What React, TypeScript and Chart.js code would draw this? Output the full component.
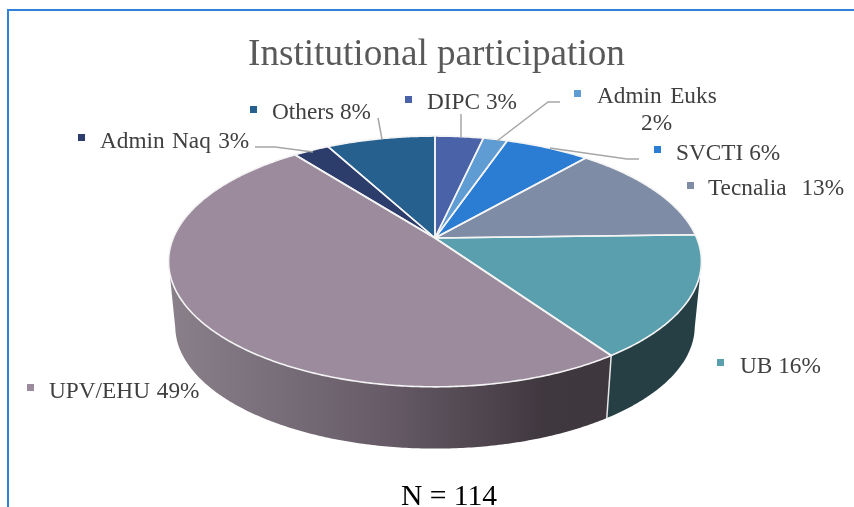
import { useEffect, useRef } from "react";
import { Chart, registerables } from "chart.js";

Chart.register(...registerables);

const categories = ["DIPC", "Admin Euks", "SVCTI", "Tecnalia", "UB", "UPV/EHU", "Admin Naq", "Others"];
const counts = [4, 2, 7, 15, 18, 56, 3, 9];
const topColors = ["#4a62a8", "#5e9cd3", "#2a7dd2", "#7f8ca6", "#5a9fad", "#9b8b9d", "#2c3c6b", "#25608f"];
const titleText = "Institutional participation";
const noteText = "N = 114";

const FONT = '"Liberation Serif", "Times New Roman", serif';
const CX = 435, CY = 238, RX = 261.7, RY = 121, P = 0.187;
const WALL_SCALE = 0.975, WALL_DROP = 65.5;

// Label placement: text, x, baseline, word spacing
const labelLayout: [string, number, number, number][] = [
  ["DIPC 3%", 427, 108.5, 0],
  ["Admin Euks", 597, 103, 2.6],
  ["SVCTI 6%", 676, 160, 0],
  ["Tecnalia 13%", 708, 195, 9],
  ["UB 16%", 740, 373, 0],
  ["UPV/EHU 49%", 49, 398, 1],
  ["Admin Naq 3%", 100, 147.5, 1.5],
  ["Others 8%", 272, 119, 0],
];
const markerLayout: [number, number][] = [
  [405, 96], [574, 90], [654, 146], [687, 182], [717, 359], [27, 384], [78, 134], [250, 106],
];
const leaders: [number, number][][] = [
  [[378, 118], [382, 139]],
  [[255, 147], [275, 147], [313, 152]],
  [[461, 114], [461, 137]],
  [[560, 102], [548, 102], [497, 141]],
  [[639, 159], [627, 159], [550, 148]],
];

function project(angle: number, scale = 1, drop = 0): [number, number] {
  const u = Math.cos(angle), v = Math.sin(angle), w = 1 - P * v;
  return [CX + (RX * scale * u) / w, CY + drop + (RY * scale * v) / w];
}

function arcPoints(a0: number, a1: number, scale = 1, drop = 0) {
  const n = Math.max(2, Math.ceil(Math.abs(a1 - a0) / 0.01));
  const pts: [number, number][] = [];
  for (let i = 0; i <= n; i++) pts.push(project(a0 + ((a1 - a0) * i) / n, scale, drop));
  return pts;
}

const perspectivePie = {
  id: "perspectivePie",
  beforeDatasetsDraw(chart: any) {
    const ctx: CanvasRenderingContext2D = chart.ctx;
    const arcs = chart.getDatasetMeta(0).data as any[];
    ctx.save();
    ctx.lineJoin = "round";

    // side walls: only the part of each slice that faces the viewer
    arcs.forEach((arc, i) => {
      const a0 = Math.max(arc.startAngle, 0.2);
      const a1 = Math.min(arc.endAngle, Math.PI - 0.2);
      if (a1 <= a0) return;
      const top = arcPoints(a0, a1);
      const bottom = arcPoints(a1, a0, WALL_SCALE, WALL_DROP);
      ctx.beginPath();
      [...top, ...bottom].forEach(([x, y], k) => (k ? ctx.lineTo(x, y) : ctx.moveTo(x, y)));
      ctx.closePath();
      if (categories[i] === "UPV/EHU") {
        const g = ctx.createLinearGradient(170, 0, 610, 0);
        g.addColorStop(0, "#8a808a");
        g.addColorStop(0.5, "#655a66");
        g.addColorStop(0.85, "#40383f");
        g.addColorStop(1, "#3f373e");
        ctx.fillStyle = g;
      } else {
        ctx.fillStyle = "#263f45";
      }
      ctx.fill();
    });

    // wall seam between UB and UPV/EHU
    const seam = arcs[categories.indexOf("UB")].endAngle;
    const [sx, sy] = project(seam);
    const [ex, ey] = project(seam, WALL_SCALE, WALL_DROP);
    ctx.strokeStyle = "#e6e6e6";
    ctx.lineWidth = 1.5;
    ctx.beginPath();
    ctx.moveTo(sx, sy);
    ctx.lineTo(ex, ey);
    ctx.stroke();

    // top faces
    arcs.forEach((arc, i) => {
      ctx.beginPath();
      ctx.moveTo(CX, CY);
      arcPoints(arc.startAngle, arc.endAngle).forEach(([x, y]) => ctx.lineTo(x, y));
      ctx.closePath();
      ctx.fillStyle = topColors[i];
      ctx.fill();
    });
    arcs.forEach((arc) => {
      ctx.beginPath();
      ctx.moveTo(CX, CY);
      arcPoints(arc.startAngle, arc.endAngle).forEach(([x, y]) => ctx.lineTo(x, y));
      ctx.closePath();
      ctx.strokeStyle = "#f4f4f4";
      ctx.lineWidth = 1.6;
      ctx.stroke();
    });
    ctx.restore();
    return false;
  },
  afterDraw(chart: any) {
    const ctx: any = chart.ctx;
    ctx.save();
    // frame
    ctx.fillStyle = "#2e83d8";
    ctx.fillRect(7, 9, 847, 2);
    ctx.fillRect(7, 9, 2, 498);

    // leader lines
    ctx.strokeStyle = "#a6a6a6";
    ctx.lineWidth = 1.5;
    leaders.forEach((pts) => {
      ctx.beginPath();
      pts.forEach(([x, y], k) => (k ? ctx.lineTo(x, y) : ctx.moveTo(x, y)));
      ctx.stroke();
    });

    ctx.textBaseline = "alphabetic";
    ctx.textAlign = "left";
    ctx.fillStyle = "#595959";
    ctx.font = `37.2px ${FONT}`;
    ctx.fillText(titleText, 248, 65);

    ctx.font = `23.3px ${FONT}`;
    ctx.fillStyle = "#404040";
    labelLayout.forEach(([t, x, y, ws]) => {
      ctx.wordSpacing = `${ws}px`;
      ctx.fillText(t, x, y);
    });
    ctx.wordSpacing = "0px";
    ctx.fillText("2%", 641, 130);

    markerLayout.forEach(([x, y], i) => {
      ctx.fillStyle = topColors[i];
      ctx.fillRect(x, y, 7, 7);
    });

    ctx.fillStyle = "#000000";
    ctx.font = `29.6px ${FONT}`;
    ctx.fillText(noteText, 401, 505);
    ctx.restore();
  },
};

export default function App() {
  const ref = useRef<HTMLCanvasElement>(null);
  useEffect(() => {
    const chart = new Chart(ref.current!, {
      type: "pie",
      data: {
        labels: categories,
        datasets: [{ data: counts, backgroundColor: topColors, borderColor: "#f4f4f4", borderWidth: 1.6 }],
      },
      options: {
        animation: false,
        responsive: false,
        plugins: { legend: { display: false }, tooltip: { enabled: false }, title: { display: false } },
      },
      plugins: [perspectivePie],
    } as any);
    return () => chart.destroy();
  }, []);
  return (
    <div style={{ position: "absolute", left: 0, top: 0, width: 854, height: 507, overflow: "hidden", background: "#fff" }}>
      <canvas ref={ref} width={854} height={507} style={{ display: "block" }} />
    </div>
  );
}
